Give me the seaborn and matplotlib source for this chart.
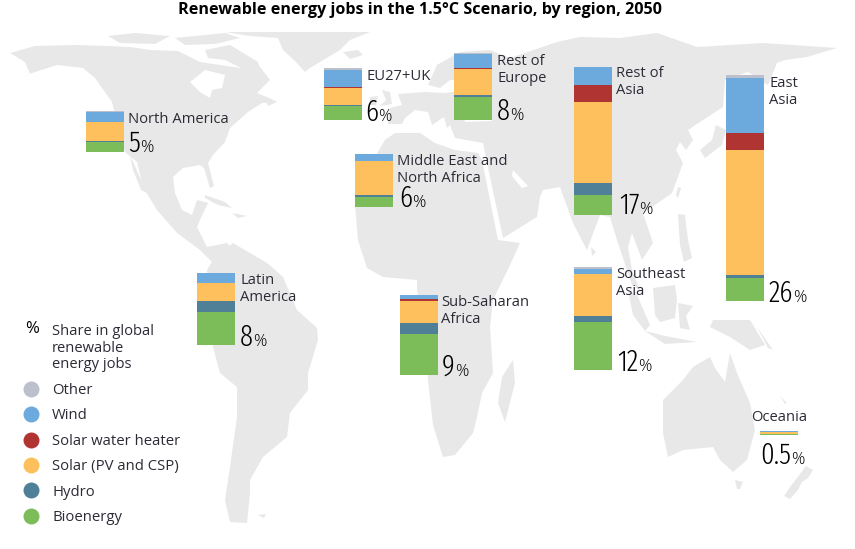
import matplotlib
matplotlib.use("Agg")
import matplotlib.pyplot as plt
from matplotlib.lines import Line2D
import pandas as pd
import seaborn as sns

W, H = 855, 549
sns.set_theme(style="white")
plt.rcParams["font.family"] = ["Open Sans", "DejaVu Sans"]

# ---- data (bar segment sizes, pixels of bar height) ----
regions = ["North America", "EU27+UK", "Middle East and North Africa", "Rest of Europe",
           "Rest of Asia", "East Asia", "Latin America", "Sub-Saharan Africa",
           "Southeast Asia", "Oceania"]
bioenergy = [10, 14, 10, 23, 20, 23, 33, 41, 48, 1]
hydro = [1, 1, 2, 2, 12, 3, 11, 11, 6, 0]
solar = [19, 17, 34, 26, 81, 125, 18, 22, 42, 2]
solar_water = [0, 1, 0, 1, 17, 17, 0, 2, 0, 0]
wind = [10, 17, 7, 14, 18, 55, 10, 4, 5, 1]
other = [1, 2, 0, 1, 0, 3, 0, 0, 2, 0]
shares = ["5", "6", "6", "8", "17", "26", "8", "9", "12", "0.5"]
tech_names = ["Bioenergy", "Hydro", "Solar (PV and CSP)", "Solar water heater", "Wind", "Other"]
tech_colors = ["#7CBD5A", "#507F98", "#FDC05C", "#B03532", "#6CAADD", "#BCC0CC"]

# ---- layout (pixels) ----
bar_left = [86, 324, 355, 454, 574, 726, 197, 400, 574, 760]
bar_base = [152, 120, 207, 120, 215, 301, 345, 375, 370, 435]
bar_w = 38
label_text = ["North America", "EU27+UK", "Middle East and\nNorth Africa", "Rest of\nEurope",
              "Rest of\nAsia", "East\nAsia", "Latin\nAmerica", "Sub-Saharan\nAfrica",
              "Southeast\nAsia", "Oceania"]
label_xy = [(128, 112), (366, 69), (397, 154), (497, 54), (616, 66), (769, 76),
            (240, 273), (441, 295), (616, 267), (751, 410)]
share_xy = [(128, 152), (365, 121), (399, 207), (497, 120), (619, 214), (769, 302),
            (240, 346), (442, 376), (617, 371), (760, 464)]

# ---- backdrop map outline (pixels, hand traced) ----
land = [
    # North America
    [(7,85),(30,74),(25,62),(10,53),(35,46),(75,45),(108,46),(130,47),(150,50),(178,51),(200,62),(240,68),(257,63),
     (270,80),(257,93),(277,102),(262,103),(248,112),(230,128),(225,142),(213,155),(208,163),(214,186),(210,188),(204,168),
     (200,165),(183,168),(173,177),(175,193),(182,210),(192,215),(197,200),(208,203),(200,220),(197,227),(207,247),(227,243),
     (233,250),(213,263),(200,250),(177,233),(157,210),(143,187),(137,162),(125,152),(112,102),(95,78),(83,68),(57,65),(32,73)],
    # Baja California
    [(130,155),(147,193),(141,190),(133,170)],
    # Arctic islands
    [(108,36),(135,33),(170,36),(155,44),(120,43)],
    [(205,50),(230,45),(258,62),(262,75),(245,70),(225,60),(208,58)],
    [(175,38),(225,33),(240,38),(215,44),(185,45)],
    # Greenland
    [(225,32),(370,32),(350,40),(340,50),(310,68),(305,72),(296,62),(283,50),(278,38),(250,36)],
    # Iceland
    [(343,52),(358,50),(363,55),(350,59)],
    # Cuba, Hispaniola
    [(205,195),(225,202),(232,208),(218,205),(205,198)],
    [(232,213),(247,216),(238,218)],
    # Newfoundland
    [(265,96),(277,102),(268,106)],
    # South America
    [(233,243),(267,263),(283,277),(297,310),(317,328),(318,340),(308,373),(308,390),(290,413),(287,437),(263,457),
     (250,480),(250,493),(247,523),(230,522),(225,500),(230,467),(237,417),(237,387),(220,373),(213,347),(207,270),(213,260)],
    [(258,515),(266,514),(264,518)],
    # Africa
    [(395,133),(420,133),(435,143),(455,150),(478,153),(482,160),(498,240),(520,243),(510,265),(493,300),(490,327),
     (493,373),(482,393),(477,417),(473,433),(455,455),(443,457),(433,425),(428,380),(425,340),(417,290),(417,280),
     (383,277),(367,268),(358,240),(355,205),(370,165),(385,140)],
    # Madagascar
    [(513,360),(515,383),(505,422),(498,403),(502,377)],
    # Eurasia
    [(460,52),(490,50),(510,58),(557,42),(580,37),(620,38),(657,33),(697,47),(763,43),(837,48),(807,57),(785,60),(777,63),
     (768,85),(762,82),(748,72),(725,80),(723,107),(703,120),(688,130),(693,140),(686,150),(680,142),(676,150),(683,163),
     (672,193),(655,205),(643,213),(653,243),(642,260),(632,233),(628,247),(632,270),(640,290),(632,285),(617,240),(610,217),
     (600,215),(587,250),(573,223),(560,187),(543,190),(540,197),(537,217),(503,238),(486,158),(483,143),(455,138),(450,125),
     (447,128),(444,117),(432,125),(428,112),(415,110),(405,118),(402,124),(388,124),(390,108),(402,105),(398,94),(425,92),
     (445,93),(470,90),(465,80),(450,80),(440,88),(428,85),(437,65)],
    # UK, Ireland
    [(382,90),(390,92),(392,104),(380,106),(386,100)],
    [(370,97),(378,96),(376,105),(369,105)],
    # Japan, Taiwan
    [(700,150),(712,140),(716,125),(726,130),(722,145),(705,158)],
    [(678,187),(681,188),(678,198),(676,195)],
    # Philippines
    [(678,214),(685,215),(688,240),(692,258),(684,262),(680,245)],
    # Sumatra, Java, Borneo, Sulawesi, New Guinea
    [(628,290),(637,295),(650,325),(645,331),(633,315)],
    [(645,331),(665,336),(697,342),(665,344)],
    [(653,288),(675,285),(677,300),(675,318),(660,322),(655,315)],
    [(678,303),(693,306),(686,316),(690,330),(680,328)],
    [(713,320),(750,320),(765,345),(750,350),(730,337),(710,327)],
    [(757,327),(773,350),(768,348)],
    # Sri Lanka
    [(591,247),(596,252),(592,256)],
    # Australia, Tasmania, New Zealand, New Caledonia
    [(663,400),(683,380),(693,367),(710,357),(715,368),(725,382),(730,353),(737,373),(750,403),(755,430),(747,460),
     (733,472),(720,460),(713,447),(683,450),(668,457),(663,433)],
    [(735,480),(743,482),(740,489),(737,489)],
    [(806,466),(813,470),(808,478),(802,482),(798,490),(790,499),(784,496),(790,487),(797,478)],
    [(780,396),(787,403),(785,404)],
]
water = [
    [(190,82),(205,70),(225,75),(222,88),(212,90),(210,98),(200,92)],  # Hudson Bay
    [(462,115),(490,114),(492,121),(465,122)],                         # Black Sea
    [(513,170),(528,186),(522,188),(512,176)],                         # Persian Gulf
]
land_color = "#E8E8E8"
text_color = "#2B2B36"

fig = plt.figure(figsize=(W / 100, H / 100), dpi=100, facecolor="white")
base = fig.add_axes([0, 0, 1, 1])
base.set_xlim(0, W)
base.set_ylim(H, 0)
base.set_axis_off()
for poly in land:
    base.fill(*zip(*poly), color=land_color, lw=0)
for poly in water:
    base.fill(*zip(*poly), color="white", lw=0)

# ---- stacked bars: one small seaborn axes per region ----
long = pd.DataFrame({"region": regions, "Bioenergy": bioenergy, "Hydro": hydro,
                     "Solar (PV and CSP)": solar, "Solar water heater": solar_water,
                     "Wind": wind, "Other": other})
for i, reg in enumerate(regions):
    row = long.iloc[i]
    total = sum(row[t] for t in tech_names)
    ax = fig.add_axes([bar_left[i] / W, 1 - bar_base[i] / H, bar_w / W, total / H])
    bottom = 0
    for t, c in zip(tech_names, tech_colors):
        if row[t] > 0:
            sns.barplot(x=[reg], y=[row[t]], bottom=bottom, color=c, width=1,
                        saturation=1, linewidth=0, ax=ax)
            bottom += row[t]
    ax.set_xlim(-0.5, 0.5)
    ax.set_ylim(0, total)
    ax.set_axis_off()

# ---- labels ----
for txt, (x, y) in zip(label_text, label_xy):
    base.text(x, y, txt, fontsize=10.6, color=text_color, va="top", ha="left", linespacing=1.15)
renderer = fig.canvas.get_renderer()
for s, (x, y) in zip(shares, share_xy):
    t = base.text(x, y, s, fontsize=21, color="black", va="baseline", ha="left", fontweight=300,
                  family=["Fira Sans Extra Condensed", "Open Sans", "DejaVu Sans"])
    right = base.transData.inverted().transform((t.get_window_extent(renderer).x1, 0))[0]
    base.text(right, y, "%", fontsize=12, color="black", va="baseline", ha="left", fontweight=300)

base.text(420, 10, "Renewable energy jobs in the 1.5°C Scenario, by region, 2050", fontsize=11.6,
          fontweight="bold", color="black", ha="center", va="center")

# ---- key ----
base.text(25, 329, "%", fontsize=12, color="black", va="center", ha="left")
base.text(52, 324, "Share in global\nrenewable\nenergy jobs", fontsize=10.6, color=text_color,
          va="top", ha="left", linespacing=1.15)
order = list(zip(tech_names, tech_colors))[::-1]
handles = [Line2D([], [], ls="", marker="o", ms=11.5, mfc=c, mec="none", label=n) for n, c in order]
base.legend(handles=handles, loc="upper left", bbox_to_anchor=(24 / W, 1 - 383 / H), frameon=False,
            fontsize=10.7, labelcolor=text_color, handlelength=1, handletextpad=0.9,
            labelspacing=0.7, borderpad=0, borderaxespad=0)

fig.savefig("out.png", dpi=100)
